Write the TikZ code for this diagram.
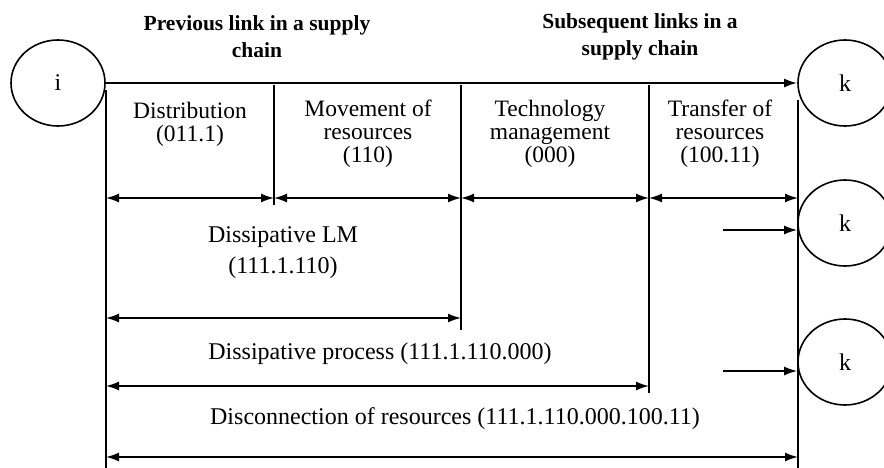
\documentclass[tikz,border=0pt]{standalone}
\usepackage{fontspec}
\setmainfont{Liberation Serif}
\usetikzlibrary{arrows.meta,shapes.geometric}

\tikzset{
  link/.style={draw, ellipse, line width=1.6pt, minimum width=94pt, minimum height=86pt, inner sep=0pt,
    font=\fontsize{24}{26}\selectfont},
  label/.style={inner sep=0pt, align=center, font=\fontsize{23.5}{23}\selectfont},
  title/.style={inner sep=0pt, align=center, font=\fontsize{21.5}{27}\selectfont\bfseries},
  border/.style={line width=1.6pt},
  span/.style={line width=1.6pt, {Latex[length=13pt,width=9pt]}-{Latex[length=13pt,width=9pt]}},
  feed/.style={line width=1.8pt, -{Latex[length=13pt,width=9pt]}},
}

\begin{document}
\begin{tikzpicture}[x=1pt,y=-1pt]
\useasboundingbox (0,0) rectangle (884,468);

% links of the chain
\node[link] (i)  at (58,83)   {i};
\node[link] (k1) at (845,83)  {k};
\node[link] (k2) at (845,223) {k};
\node[link] (k3) at (845,362) {k};

% headings
\node[title] (prev) at (257,37) {Previous link in a supply\\chain};
\node[title] (next) at (640,37) {Subsequent links in a\\supply chain};

% boundaries between stages
\coordinate (a0) at (106,90);  \coordinate (a1) at (106,468);
\coordinate (b0) at (274,85);  \coordinate (b1) at (274,205);
\coordinate (c0) at (461,85);  \coordinate (c1) at (461,330);
\coordinate (d0) at (649,85);  \coordinate (d1) at (649,393);
\coordinate (e0) at (798,100); \coordinate (e1) at (798,468);
\draw[border] (a0) -- (a1);
\draw[border] (b0) -- (b1);
\draw[border] (c0) -- (c1);
\draw[border] (d0) -- (d1);
\draw[border] (e0) -- (e1);

% main flow
\draw[feed, line width=2.2pt] (i.east) -- (k1.west);

% stage names
\node[label] (dist) at (190,124) {Distribution\\(011.1)};
\node[label] (move) at (368,134) {Movement of\\resources\\(110)};
\node[label] (tech) at (550,134) {Technology\\management\\(000)};
\node[label] (tran) at (720,134) {Transfer of\\resources\\(100.11)};

% stage spans
\coordinate (r1a) at (106,198); \coordinate (r1b) at (274,198);
\coordinate (r1c) at (461,198); \coordinate (r1d) at (649,198);
\coordinate (r1e) at (798,198);
\draw[span] (r1a) -- (r1b);
\draw[span] (r1b) -- (r1c);
\draw[span] (r1c) -- (r1d);
\draw[span] (r1d) -- (r1e);

% inputs to the following links
\coordinate (f2) at (723,230);
\coordinate (f3) at (723,371);
\draw[feed] (f2) -- (k2.west |- f2);
\draw[feed] (f3) -- (k3.west |- f3);

% combined spans
\node[label, font=\fontsize{24}{31}\selectfont] (lm) at (283,253) {Dissipative LM\\(111.1.110)};
\coordinate (r2a) at (106,318); \coordinate (r2b) at (461,318);
\draw[span] (r2a) -- (r2b);

\node[label, font=\fontsize{24}{26}\selectfont] (proc) at (380,354) {Dissipative process (111.1.110.000)};
\coordinate (r3a) at (106,386); \coordinate (r3b) at (649,386);
\draw[span] (r3a) -- (r3b);

\node[label, font=\fontsize{24}{26}\selectfont] (disc) at (455,419) {Disconnection of resources (111.1.110.000.100.11)};
\coordinate (r4a) at (106,457); \coordinate (r4b) at (798,457);
\draw[span] (r4a) -- (r4b);
\end{tikzpicture}
\end{document}
